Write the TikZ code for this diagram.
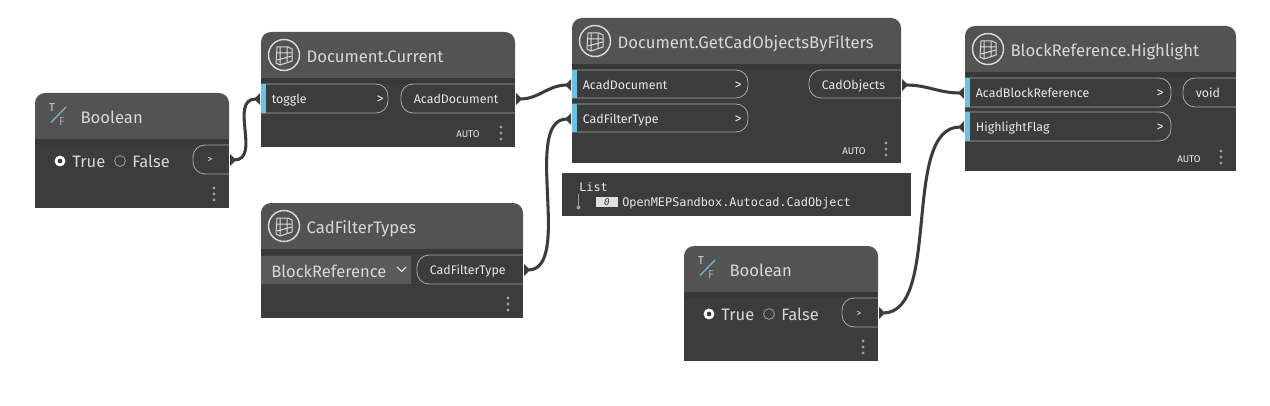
\documentclass[tikz,border=0pt]{standalone}
\usepackage{fontspec}
\setmainfont{Fira Sans}
\newfontfamily\monof{DejaVu Sans Mono}
\definecolor{hdr}{HTML}{535353}
\definecolor{bdy}{HTML}{3C3C3C}
\definecolor{hdrshadow}{HTML}{383838}
\definecolor{ddbg}{HTML}{5A5A5A}
\definecolor{portblue}{HTML}{6AC0E7}
\definecolor{pillline}{HTML}{A8A8A8}
\definecolor{txt}{HTML}{E8E8E8}
\definecolor{ttl}{HTML}{D8D8D8}
\definecolor{wire}{HTML}{3C3C3C}
\tikzset{
  title/.style={anchor=base west,inner sep=0pt,yshift=-0.6pt,xshift=-0.5pt,text=ttl,font=\fontsize{12.5pt}{14pt}\selectfont},
  portlabel/.style={anchor=base west,inner sep=0pt,yshift=-0.5pt,xshift=-0.3pt,text=txt,font=\fontsize{9.3pt}{11pt}\selectfont},
  chev/.style={anchor=base,inner sep=0pt,yshift=-0.5pt,text=txt,font=\fontsize{10.5pt}{12pt}\selectfont},
  smallchev/.style={anchor=base,inner sep=0pt,text=txt,font=\fontsize{7pt}{9pt}\selectfont},
  autolabel/.style={anchor=base west,inner sep=0pt,yshift=-0.5pt,text=txt,font=\fontsize{7.3pt}{9pt}\selectfont},
  radiolabel/.style={anchor=base west,inner sep=0pt,text=ttl,font=\fontsize{12.4pt}{14pt}\selectfont},
  monolabel/.style={anchor=base west,inner sep=0pt,text=txt,font=\monof\fontsize{8.9pt}{10pt}\selectfont},
  pill/.style={draw=pillline,line width=0.6pt},
  wirestyle/.style={draw=wire,line width=2.3pt,line cap=round},
}
% x1 y1 x2 y2 headerbottom
\newcommand\nodebody[5]{%
  \fill[bdy] (#1,#5) rectangle (#3,#4);
  \fill[hdrshadow] (#1,#5) rectangle (#3,#5+6);
  \fill[hdr] (#1,#5) [rounded corners=7.5pt] -- (#1,#2) -- (#3,#2) [sharp corners] -- (#3,#5) -- cycle;
}
% input pill: x1 y1 x2 y2
\newcommand\inpill[4]{%
  \draw[pill] (#1,#2) [rounded corners=9pt] -- (#3,#2) -- (#3,#4) [sharp corners] -- (#1,#4);
  \fill[portblue] (#1,#2) rectangle (#1+5,#4);
}
% output pill: x1 y1 x2 y2
\newcommand\outpill[4]{%
  \draw[pill] (#3,#2) [rounded corners=9pt] -- (#1,#2) -- (#1,#4) [sharp corners] -- (#3,#4);
}
% dots x y
\newcommand\threedots[2]{%
  \foreach \d in {-6,0,6} \fill[gray!75] (#1,#2+\d) circle[radius=1.6];
}
% circular icon cx cy
\newcommand\hexicon[2]{%
  \begin{scope}[shift={(#1,#2)}]
    \draw[ttl,line width=1.1pt] (0,0) circle[radius=15.5];
    \draw[ttl,line width=0.75pt] (-7,-8) -- (4,-8) -- (8,-6) -- (8,6) -- (-4,10) -- (-8,8) -- cycle;
    \draw[ttl,line width=0.75pt] (-4,-8) -- (-4,10) (3,-8) -- (3,7) (-7,-2) -- (8,-2) (-7,5) -- (8,1);
  \end{scope}
}
% T/F icon x y (centre)
\newcommand\tficon[2]{%
  \begin{scope}[shift={(#1,#2)}]
    \draw[portblue!70!gray,line width=1.1pt] (-8,7.5) -- (7,-8);
    \node[inner sep=0pt,text=ttl,font=\fontsize{8.5pt}{9pt}\selectfont] at (-7,-7) {T};
    \node[inner sep=0pt,text=gray!70,font=\fontsize{8.5pt}{9pt}\selectfont] at (3,7) {F};
  \end{scope}
}
% radios x y
\newcommand\radios[2]{%
  \begin{scope}[shift={(#1,#2)}]
    \draw[white,line width=2pt,fill=bdy] (0,0) circle[radius=4];
    \draw[gray!85,line width=0.7pt] (60,0) circle[radius=5.4];
  \end{scope}
}
% tips
\newcommand\tipout[3]{\fill[wire] (#2+1,#3-6) -- (#2+5,#3-2) -- (#2+6,#3) -- (#2+5,#3+2) -- (#2+1,#3+6) -- cycle; \coordinate (#1) at (#2+5,#3);}
\newcommand\tipin[3]{\fill[wire] (#2-1,#3-6) -- (#2-5,#3-2) -- (#2-6,#3) -- (#2-5,#3+2) -- (#2-1,#3+6) -- cycle; \coordinate (#1) at (#2-5,#3);}
\begin{document}
\begin{tikzpicture}[x=0.75pt,y=-0.75pt]
\useasboundingbox (0,0) rectangle (1270,406);
\fill[white] (0,0) rectangle (1270,406);

% --- Boolean 1
\nodebody{35}{93}{229}{208}{139}
\tficon{59}{115}
\node[title] (b1t) at (81,123) {Boolean};
\radios{60}{161}
\node[radiolabel] (b1true) at (72,167) {True};
\node[radiolabel] (b1false) at (132,167) {False};
\outpill{193}{145}{229}{174}
\node[smallchev] (b1out) at (210,163) {>};
\threedots{214}{194}
\tipout{b1p}{229}{160}

% --- Document.Current
\nodebody{261}{32}{515}{147}{78}
\hexicon{284}{55}
\node[title] (dct) at (307,62) {Document.Current};
\inpill{261}{84}{388}{113}
\node[portlabel] (dctoggle) at (272,103) {toggle};
\node[chev] (dcchev) at (380,103) {>};
\outpill{401}{84}{515}{113}
\node[portlabel] (dcout) at (414,103) {AcadDocument};
\node[autolabel] (dcauto) at (456,137) {AUTO};
\threedots{501}{133}
\tipin{dci}{261}{99}
\tipout{dco}{515}{99}

% --- GetCadObjectsByFilters
\nodebody{572}{18}{901}{163}{64}
\hexicon{595}{41}
\node[title] (gct) at (618,48) {Document.GetCadObjectsByFilters};
\inpill{572}{70}{748}{98}
\node[portlabel] (gcp1) at (583,89) {AcadDocument};
\node[chev] (gcc1) at (738,89) {>};
\inpill{572}{104}{748}{132}
\node[portlabel] (gcp2) at (583,123) {CadFilterType};
\node[chev] (gcc2) at (738,123) {>};
\outpill{809}{70}{901}{98}
\node[portlabel] (gcout) at (822,89) {CadObjects};
\node[autolabel] (gcauto) at (842,154) {AUTO};
\threedots{886}{149}
\tipin{gci1}{572}{85}
\tipin{gci2}{572}{119}
\tipout{gco}{901}{85}

% --- Watch list
\fill[bdy] (562,173) rectangle (911,216);
\node[monolabel] (wl) at (579,191) {List};
\draw[gray!75,line width=0.6pt] (578.5,194) -- (578.5,207);
\fill[gray!75] (578.5,207.5) circle[radius=2];
\fill[gray!25] (596,197) rectangle (618,207);
\node[inner sep=0pt,text=bdy,font=\monof\itshape\fontsize{7pt}{8pt}\selectfont] (wi) at (607,202) {0};
\node[monolabel] (wv) at (622,206) {OpenMEPSandbox.Autocad.CadObject};

% --- BlockReference.Highlight
\nodebody{965}{26}{1236}{171}{72}
\hexicon{988}{49}
\node[title] (brt) at (1011,56) {BlockReference.Highlight};
\inpill{965}{78}{1171}{107}
\node[portlabel] (brp1) at (976,97) {AcadBlockReference};
\node[chev] (brc1) at (1160,97) {>};
\inpill{965}{112}{1171}{141}
\node[portlabel] (brp2) at (976,131) {HighlightFlag};
\node[chev] (brc2) at (1160,131) {>};
\outpill{1183}{78}{1236}{107}
\node[portlabel] (brout) at (1196,97) {void};
\node[autolabel] (brauto) at (1177,162) {AUTO};
\threedots{1221}{157}
\tipin{bri1}{965}{93}
\tipin{bri2}{965}{127}

% --- CadFilterTypes
\nodebody{261}{203}{523}{318}{249}
\hexicon{284}{226}
\node[title] (cft) at (307,233) {CadFilterTypes};
\fill[ddbg] (261,256) rectangle (411,284);
\node[radiolabel] (cfdd) at (271,277) {BlockReference};
\draw[txt,line width=0.8pt] (397,267) -- (401.5,271.5) -- (406,267);
\outpill{417}{255}{523}{284}
\node[portlabel] (cfout) at (430,274) {CadFilterType};
\threedots{508}{304}
\tipout{cfo}{523}{270}

% --- Boolean 2
\nodebody{684}{246}{878}{361}{292}
\tficon{708}{268}
\node[title] (b2t) at (730,276) {Boolean};
\radios{709}{314}
\node[radiolabel] (b2true) at (721,320) {True};
\node[radiolabel] (b2false) at (781,320) {False};
\outpill{842}{298}{878}{327}
\node[smallchev] (b2out) at (859,316) {>};
\threedots{863}{347}
\tipout{b2p}{878}{313}

% --- Connectors
\draw[wirestyle] (b1p) to[out=0,in=180,looseness=1.1] (dci);
\draw[wirestyle] (dco) to[out=0,in=180] (gci1);
\draw[wirestyle] (cfo) to[out=0,in=180,looseness=0.75] (gci2);
\draw[wirestyle] (gco) to[out=0,in=180] (bri1);
\draw[wirestyle] (b2p) to[out=0,in=180,looseness=0.75] (bri2);
\end{tikzpicture}
\end{document}
